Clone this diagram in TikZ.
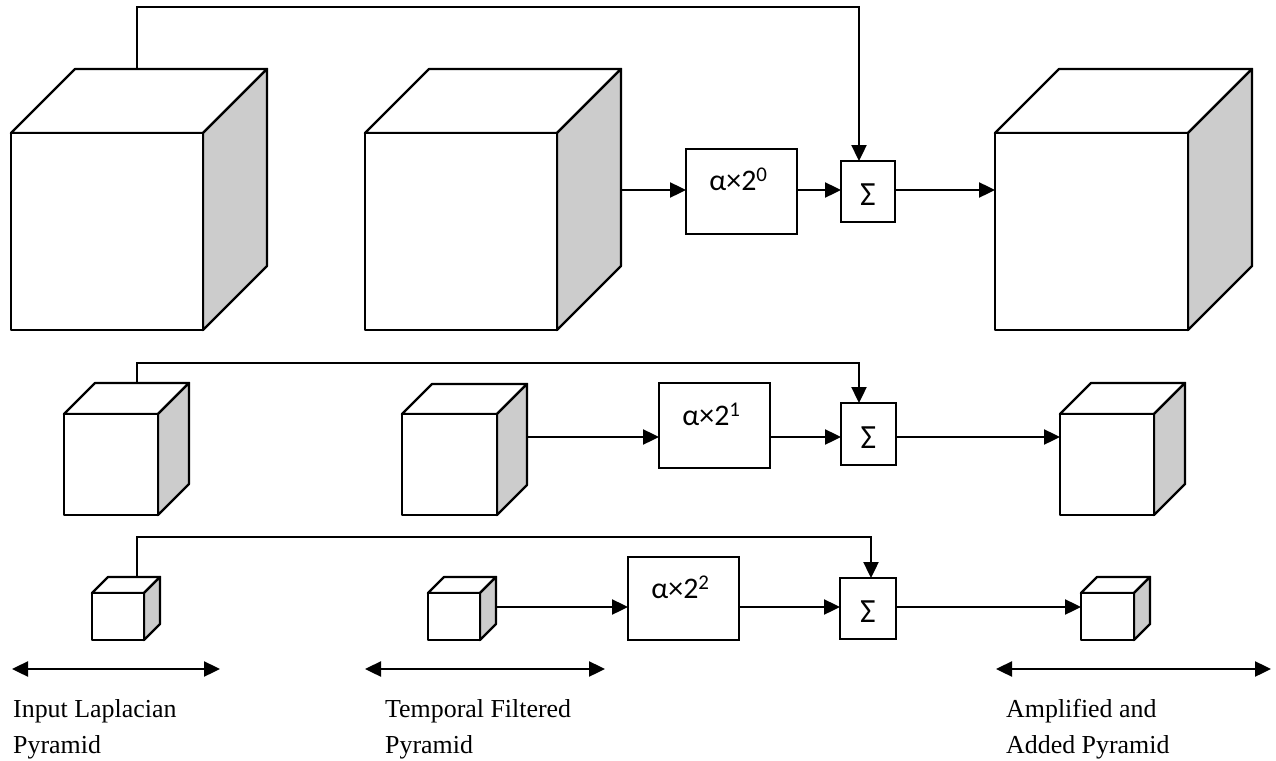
\documentclass[tikz,border=0pt]{standalone}
\usepackage{fontspec}
\setmainfont{Liberation Serif}
\newfontfamily\calib{Carlito}
\usetikzlibrary{arrows.meta}
\tikzset{
  ln/.style={line width=2.4bp},
  arr/.style={ln,-{Triangle[length=16bp,width=15bp]}},
  darr/.style={ln,{Triangle[length=16bp,width=15bp]}-{Triangle[length=16bp,width=15bp]}},
  face/.style={ln,draw=black,fill=white,line join=round},
  sideface/.style={ln,draw=black,fill=black!20,line join=round},
  front/.style={face,rectangle,inner sep=0pt,outer sep=0pt,anchor=north west},
  opbox/.style={ln,draw=black,fill=white,rectangle,inner sep=0pt,outer sep=0pt,anchor=north west},
  lbl/.style={font=\fontsize{26}{31}\selectfont,anchor=base west,inner sep=0pt},
  optext/.style={font=\calib\fontsize{30}{34}\selectfont,anchor=base,inner sep=0pt},
  sigtext/.style={font=\calib\fontsize{34}{38}\selectfont,anchor=base,inner sep=0pt},
}
% name, x1, y1, x2, y2, depth
\newcommand\mycube[6]{%
  \draw[face] (#2,#3) -- ({#2+#6},{#3-#6}) -- ({#4+#6},{#3-#6}) -- (#4,#3) -- cycle;
  \draw[sideface] (#4,#3) -- ({#4+#6},{#3-#6}) -- ({#4+#6},{#5-#6}) -- (#4,#5) -- cycle;
  \node[front,minimum width={(#4-#2)*1bp},minimum height={(#5-#3)*1bp}] (#1) at (#2,#3) {};
  \coordinate (#1s) at ({#4+#6},{#3});
  \coordinate (#1b) at (#2,{#3-#6});
}
\newcommand\myop[5]{% name, x1, y1, x2, y2
  \node[opbox,minimum width={(#4-#2)*1bp},minimum height={(#5-#3)*1bp}] (#1) at (#2,#3) {};
}
\begin{document}
\begin{tikzpicture}[x=1bp,y=-1bp]
\useasboundingbox (0,0) rectangle (1276,761);

% cubes
\mycube{c1}{11}{133}{203}{330}{64}
\mycube{c2}{365}{133}{557}{330}{64}
\mycube{c3}{995}{133}{1188}{330}{64}
\mycube{c4}{64}{414}{158}{515}{31}
\mycube{c5}{402}{414}{497}{515}{30}
\mycube{c6}{1060}{414}{1154}{515}{31}
\mycube{c7}{92}{593}{144}{640}{16}
\mycube{c8}{428}{593}{480}{640}{16}
\mycube{c9}{1081}{593}{1134}{640}{16}

% operation boxes
\myop{a0}{686}{149}{797}{234}
\myop{s0}{841}{161}{895}{222}
\myop{a1}{659}{383}{770}{468}
\myop{s1}{841}{403}{896}{465}
\myop{a2}{628}{557}{739}{640}
\myop{s2}{840}{578}{896}{639}

\node[optext] (t0) at ([xshift=-3bp,yshift=-41bp]a0.north) {α×2\textsuperscript{0}};
\node[optext] (t1) at ([xshift=-3bp,yshift=-42bp]a1.north) {α×2\textsuperscript{1}};
\node[optext] (t2) at ([xshift=-3bp,yshift=-41bp]a2.north) {α×2\textsuperscript{2}};
\node[sigtext] (g0) at ([yshift=-44bp]s0.north) {Σ};
\node[sigtext] (g1) at ([yshift=-45bp]s1.north) {Σ};
\node[sigtext] (g2) at ([yshift=-44bp]s2.north) {Σ};

% row levels and bus positions
\coordinate (r1) at (0,190);
\coordinate (r2) at (0,437);
\coordinate (r3) at (0,607);
\coordinate (bus) at (137,0);
\coordinate (h1) at (0,7);
\coordinate (h2) at (0,363);
\coordinate (h3) at (0,537);
\coordinate (k1) at (859,0);
\coordinate (k2) at (859,0);
\coordinate (k3) at (871,0);

% row 1
\draw[arr] (c2s |- r1) -- (a0.west |- r1);
\draw[arr] (a0.east |- r1) -- (s0.west |- r1);
\draw[arr] (s0.east |- r1) -- (c3.west |- r1);
\draw[arr] (bus |- c1b) -- (bus |- h1) -- (k1 |- h1) -- (k1 |- s0.north);

% row 2
\draw[arr] (c5s |- r2) -- (a1.west |- r2);
\draw[arr] (a1.east |- r2) -- (s1.west |- r2);
\draw[arr] (s1.east |- r2) -- (c6.west |- r2);
\draw[arr] (bus |- c4b) -- (bus |- h2) -- (k2 |- h2) -- (k2 |- s1.north);

% row 3
\draw[arr] (c8s |- r3) -- (a2.west |- r3);
\draw[arr] (a2.east |- r3) -- (s2.west |- r3);
\draw[arr] (s2.east |- r3) -- (c9.west |- r3);
\draw[arr] (bus |- c7b) -- (bus |- h3) -- (k3 |- h3) -- (k3 |- s2.north);

% scale arrows
\coordinate (d1a) at (12,669);  \coordinate (d1b) at (220,669);
\coordinate (d2a) at (365,669); \coordinate (d2b) at (605,669);
\coordinate (d3a) at (996,669); \coordinate (d3b) at (1271,669);
\draw[darr] (d1a) -- (d1b);
\draw[darr] (d2a) -- (d2b);
\draw[darr] (d3a) -- (d3b);

% captions
\node[lbl] (l1a) at (13,717) {Input Laplacian};
\node[lbl] (l1b) at (13,753) {Pyramid};
\node[lbl] (l2a) at (385,717) {Temporal Filtered};
\node[lbl] (l2b) at (385,753) {Pyramid};
\node[lbl] (l3a) at (1006,717) {Amplified and};
\node[lbl] (l3b) at (1006,753) {Added Pyramid};
\end{tikzpicture}
\end{document}
